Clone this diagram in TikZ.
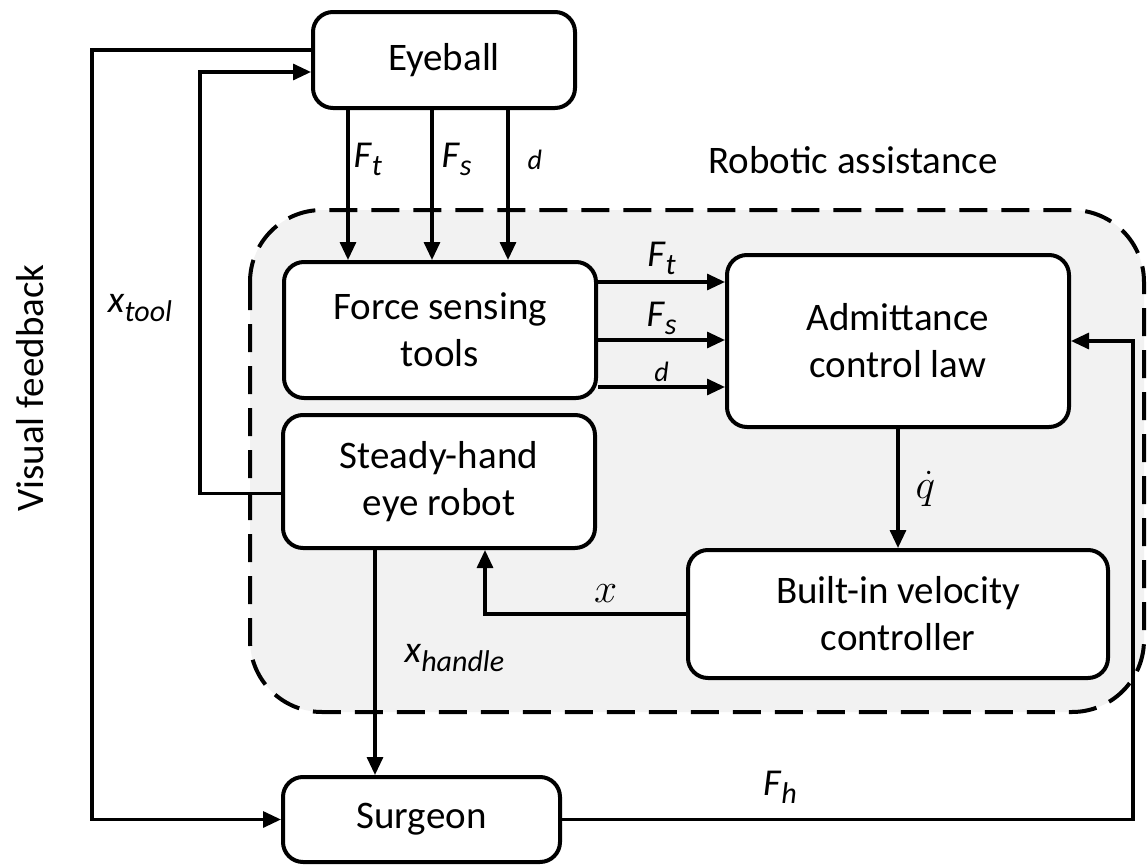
\documentclass[tikz,border=0pt]{standalone}
\usepackage{fontspec}
\setmainfont{Carlito}
\usetikzlibrary{arrows.meta,calc}
\newcommand{\boxfont}{\fontsize{19.5}{23.5}\selectfont}
\newcommand{\sublbl}[2]{\textit{#1}\raisebox{-0.45ex}{\fontsize{15}{17}\selectfont\textit{#2}}}

\tikzset{
  blk/.style={draw, line width=2pt, rounded corners=10pt, fill=white,
    align=center, font=\boxfont, inner sep=0pt},
  arr/.style={line width=1.6pt, -{Triangle[length=9pt,width=8pt]}},
  lbl/.style={font=\fontsize{19}{21}\selectfont, inner sep=2pt},
  region/.style={line width=2pt, dash pattern=on 14pt off 7pt,
    fill=black!5, rounded corners=36pt}
}

\begin{document}
\begin{tikzpicture}[x=0.5pt, y=-0.5pt]
    \useasboundingbox (0,0) rectangle (1147,867);
    %% Robotic assistance region
    \draw[region] (250,210) rectangle (1144,712);
    \node[font=\boxfont] (ra) at (853,160) {Robotic assistance};
    \node[font=\boxfont, rotate=90] (vf) at (30,388) {Visual feedback};
    %% Blocks
    \node[blk, minimum width=131pt, minimum height=48pt] (eye) at (444,60) {Eyeball};
    \node[blk, minimum width=156pt, minimum height=68pt] (force) at (440,330) {Force sensing\\tools};
    \node[blk, minimum width=156pt, minimum height=66.5pt] (steady) at (439,481.5) {Steady-hand\\eye robot};
    \node[blk, minimum width=171pt, minimum height=86pt] (adm) at (898,341) {Admittance\\control law};
    \node[blk, minimum width=210pt, minimum height=64pt] (vel) at (898,614) {Built-in velocity\\controller};
    \node[blk, minimum width=138.5pt, minimum height=42.5pt] (surg) at (421.5,819.5) {Surgeon};
    %% Eyeball to force sensing tools
    \draw[arr] ([xshift=-48pt]eye.south) -- ([xshift=-48pt]eye.south |- force.north)
        node[lbl, pos=0.33, right] {\sublbl{F}{t}};
    \draw[arr] ([xshift=-6pt]eye.south) -- ([xshift=-6pt]eye.south |- force.north)
        node[lbl, pos=0.33, right, xshift=2pt] {\sublbl{F}{s}};
    \draw[arr] ([xshift=32pt]eye.south) -- ([xshift=32pt]eye.south |- force.north)
        node[lbl, pos=0.33, right, xshift=7pt, font=\fontsize{14}{16}\selectfont] {\textit{d}};
    %% Force sensing tools to admittance law
    \draw[arr] ([yshift=24pt]force.east) -- ([yshift=24pt]force.east -| adm.west)
        node[lbl, midway, above, yshift=1pt] {\sublbl{F}{t}};
    \draw[arr] ([yshift=-5pt]force.east) -- ([yshift=-5pt]force.east -| adm.west)
        node[lbl, midway, above] {\sublbl{F}{s}};
    \draw[arr] ([yshift=-28.5pt]force.east) -- ([yshift=-28.5pt]force.east -| adm.west)
        node[lbl, midway, above, font=\fontsize{14}{16}\selectfont] {\textit{d}};
    %% Control chain
    \draw[arr] (adm.south) -- (vel.north)
        node[lbl, pos=0.5, right, xshift=6pt, font=\fontsize{21}{24}\selectfont] {$\dot{q}$};
    \draw[arr] (vel.west) -| ([xshift=23pt]steady.south)
        node[lbl, pos=0.2, above, yshift=3pt, font=\fontsize{21}{24}\selectfont] {$x$};
    \draw[arr] ([xshift=-32pt]steady.south) -- ([xshift=-32pt]steady.south |- surg.north)
        node[lbl, pos=0.48, right, xshift=12pt] {\sublbl{x}{handle}};
    %% Feedback loops
    \coordinate (tl) at (200,72);
    \coordinate (vl) at (92,50);
    \coordinate (fr) at (1133,822);
    \draw[arr] ([yshift=-6pt]steady.west) -| (tl) -- ([yshift=-6pt]eye.west);
    \node[lbl] (xt) at (140,308) {\sublbl{x}{tool}};
    \draw[arr] ([yshift=5pt]eye.west) -- (vl) |- (surg.west);
    \draw[arr] (surg.east) -- (surg.east -| fr) -- (fr |- adm.east) -- (adm.east);
    \node[lbl] (fh) at (780,787) {\sublbl{F}{h}};
\end{tikzpicture}
\end{document}
